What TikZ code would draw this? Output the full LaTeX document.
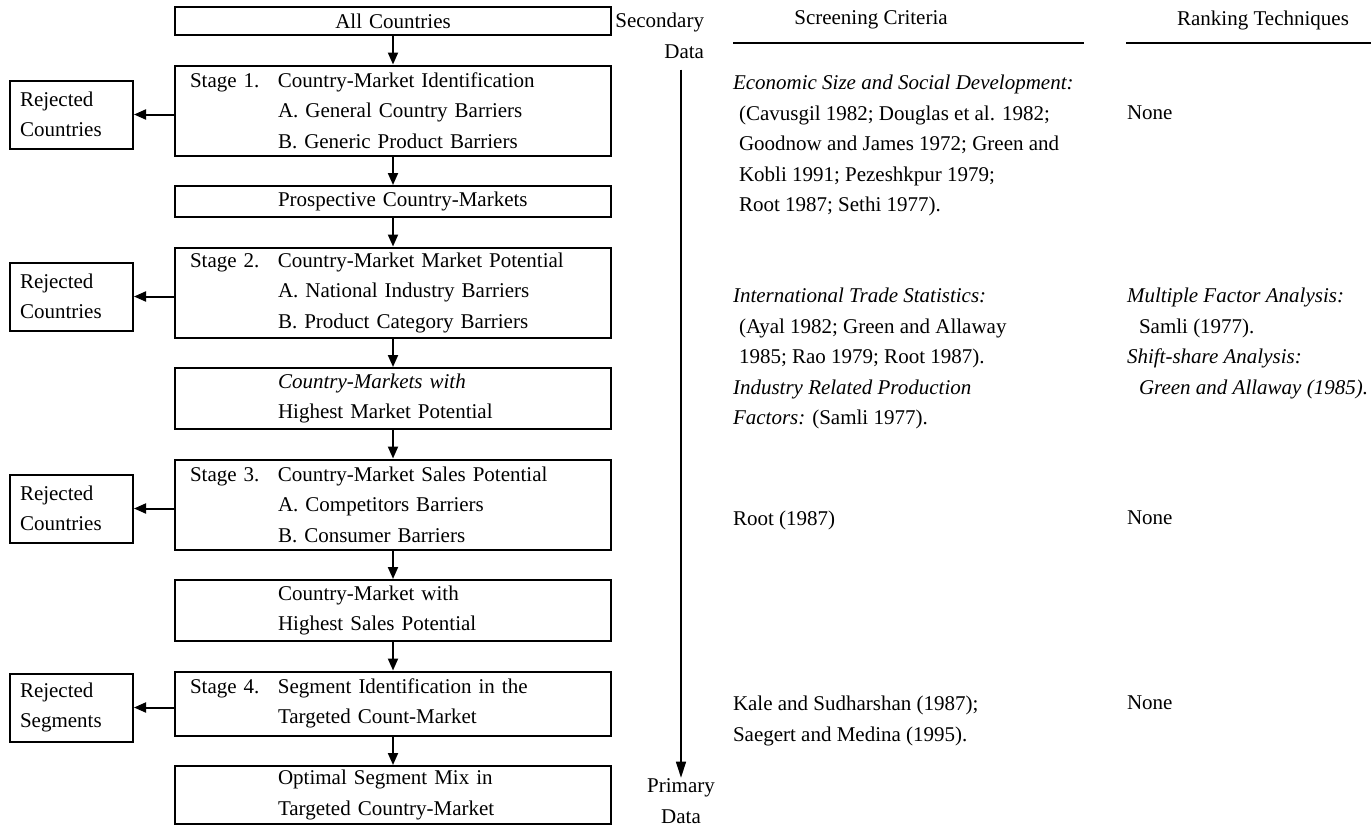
\documentclass[tikz,border=0pt]{standalone}
\usepackage{fontspec}
\setmainfont{Liberation Serif}
\usetikzlibrary{positioning,arrows.meta}

\begin{document}
\begin{tikzpicture}[x=0.5pt, y=-0.5pt, >={Triangle[length=6pt,width=5pt]}, line width=1pt, node distance=14.25pt,
    font=\fontsize{10.5}{15.25}\selectfont,
    main node/.style={draw, text width=203pt, inner xsep=7.5pt, inner ysep=0pt, align=left},
    rej node/.style={draw, text width=51.5pt, inner xsep=5pt, inner ysep=0pt, minimum height=34pt, align=left},
    col node/.style={inner sep=0pt, anchor=north west, align=left}]

            \useasboundingbox (0,0) rectangle (1371,826);

            % stages
            \node[main node, minimum height=14pt, align=center] (all) at (393,21) {All Countries};
            \node[main node, minimum height=45pt, below=of all] (s1) {\makebox[44pt][l]{Stage 1.}Country-Market Identification\\ \hspace*{44pt}A. General Country Barriers\\ \hspace*{44pt}B. Generic Product Barriers};
            \node[main node, minimum height=15.5pt, below=of s1] (pros) {\hspace*{44pt}Prospective Country-Markets};
            \node[main node, minimum height=45pt, below=of pros] (s2) {\makebox[44pt][l]{Stage 2.}Country-Market Market Potential\\ \hspace*{44pt}A. National Industry Barriers\\ \hspace*{44pt}B. Product Category Barriers};
            \node[main node, minimum height=30.5pt, below=of s2] (hmp) {\hspace*{44pt}\textit{Country-Markets with}\\ \hspace*{44pt}Highest Market Potential};
            \node[main node, minimum height=45pt, below=of hmp] (s3) {\makebox[44pt][l]{Stage 3.}Country-Market Sales Potential\\ \hspace*{44pt}A. Competitors Barriers\\ \hspace*{44pt}B. Consumer Barriers};
            \node[main node, minimum height=30.5pt, below=of s3] (hsp) {\hspace*{44pt}Country-Market with\\ \hspace*{44pt}Highest Sales Potential};
            \node[main node, minimum height=32pt, below=of hsp] (s4) {\makebox[44pt][l]{Stage 4.}Segment Identification in the\\ \hspace*{44pt}Targeted Count-Market};
            \node[main node, minimum height=29pt, below=of s4] (opt) {\hspace*{44pt}Optimal Segment Mix in\\ \hspace*{44pt}Targeted Country-Market};

            \node[rej node, left=20pt of s1, yshift=-2pt] (r1) {Rejected\\Countries};
            \node[rej node, left=20pt of s2, yshift=-2pt] (r2) {Rejected\\Countries};
            \node[rej node, left=20pt of s3, yshift=-2pt] (r3) {Rejected\\Countries};
            \node[rej node, left=20pt of s4, yshift=-2pt] (r4) {Rejected\\Segments};

            \draw[->] (all) -- (s1);
            \draw[->] (s1) -- (pros);
            \draw[->] (pros) -- (s2);
            \draw[->] (s2) -- (hmp);
            \draw[->] (hmp) -- (s3);
            \draw[->] (s3) -- (hsp);
            \draw[->] (hsp) -- (s4);
            \draw[->] (s4) -- (opt);

            \draw[->] (s1.west |- r1) -- (r1);
            \draw[->] (s2.west |- r2) -- (r2);
            \draw[->] (s3.west |- r3) -- (r3);
            \draw[->] (s4.west |- r4) -- (r4);

            % data
            \node[inner sep=0pt, align=right, anchor=east] (sec) at (705,36) {Secondary\\Data};
            \node[inner sep=0pt, align=center] (prim) at (681,801) {Primary\\Data};
            \draw[-{Triangle[length=8pt,width=5pt]}, line width=0.75pt, shorten <=5pt] (sec.south -| prim) -- (prim);

            % headings
            \node (scr) at (871,20) {Screening Criteria};
            \node (rank) at (1263,20) {Ranking Techniques};
            \coordinate (scrA) at (733,43);
            \coordinate (scrB) at (1084,43);
            \coordinate (rankA) at (1126,43);
            \coordinate (rankB) at (1371,43);
            \draw[line width=1.2pt] (scrA) -- (scrB);
            \draw[line width=1.2pt] (rankA) -- (rankB);

            \node[col node] (scr1) at (732,74) {\textit{Economic Size and Social Development:}\\ \hspace*{3pt}(Cavusgil 1982; Douglas et al. 1982;\\ \hspace*{3pt}Goodnow and James 1972; Green and\\ \hspace*{3pt}Kobli 1991; Pezeshkpur 1979;\\ \hspace*{3pt}Root 1987; Sethi 1977).};
            \node[col node] (rank1) at (1126,105) {None};
            \node[col node] (scr2) at (732,287) {\textit{International Trade Statistics:}\\ \hspace*{3pt}(Ayal 1982; Green and Allaway\\ \hspace*{3pt}1985; Rao 1979; Root 1987).\\ \textit{Industry Related Production}\\ \textit{Factors:} (Samli 1977).};
            \node[col node] (rank2) at (1126,287) {\textit{Multiple Factor Analysis:}\\ \hspace*{6pt}Samli (1977).\\ \textit{Shift-share Analysis:}\\ \hspace*{6pt}\textit{Green and Allaway (1985).}};
            \node[col node] (scr3) at (732,510) {Root (1987)};
            \node[col node] (rank3) at (1126,510) {None};
            \node[col node] (scr4) at (732,695) {Kale and Sudharshan (1987);\\ Saegert and Medina (1995).};
            \node[col node] (rank4) at (1126,695) {None};

            ;
        \end{tikzpicture}
\end{document}
